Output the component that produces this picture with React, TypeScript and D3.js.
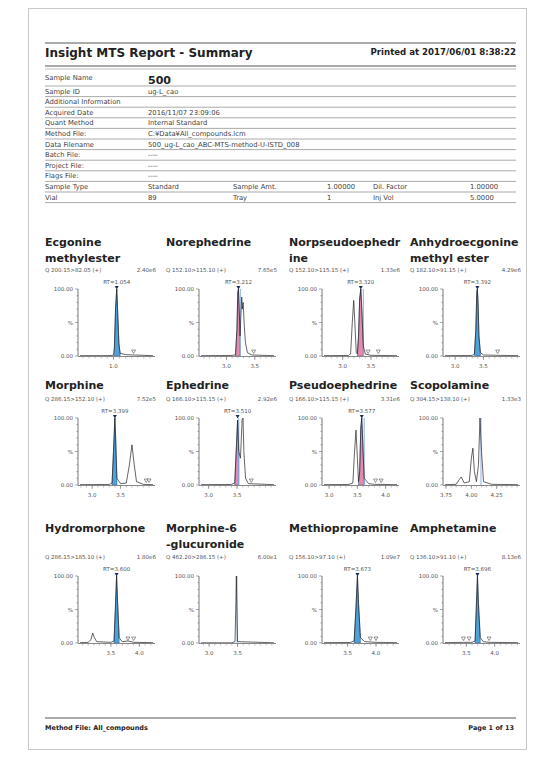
import React from "react"
import * as d3 from "d3"

type Pt = [number, number]

// ---- sample information table ----
const infoLabels = [
  "Sample Name",
  "Sample ID",
  "Additional Information",
  "Acquired Date",
  "Quant Method",
  "Method File:",
  "Data Filename",
  "Batch File:",
  "Project File:",
  "Flags File:",
]
const infoValues = [
  "500",
  "ug-L_cao",
  "",
  "2016/11/07 23:09:06",
  "Internal Standard",
  "C:\u00a5Data\u00a5All_compounds.lcm",
  "500_ug-L_cao_ABC-MTS-method-U-ISTD_008",
  "----",
  "----",
  "----",
]
const sampleTypeRow = ["Sample Type", "Standard", "Sample Amt.", "1.00000", "Dil. Factor", "1.00000"]
const vialRow = ["Vial", "89", "Tray", "1", "Inj Vol", "5.0000"]

// ---- compounds ----
const titleLines: string[][] = [
  ["Ecgonine", "methylester"],
  ["Norephedrine"],
  ["Norpseudoephedr", "ine"],
  ["Anhydroecgonine", "methyl ester"],
  ["Morphine"],
  ["Ephedrine"],
  ["Pseudoephedrine"],
  ["Scopolamine"],
  ["Hydromorphone"],
  ["Morphine-6", "-glucuronide"],
  ["Methiopropamine"],
  ["Amphetamine"],
]
const transitions = [
  "Q 200.15>82.05 (+)",
  "Q 152.10>115.10 (+)",
  "Q 152.10>115.15 (+)",
  "Q 182.10>91.15 (+)",
  "Q 286.15>152.10 (+)",
  "Q 166.10>115.15 (+)",
  "Q 166.10>115.15 (+)",
  "Q 304.15>138.10 (+)",
  "Q 286.15>185.10 (+)",
  "Q 462.20>286.15 (+)",
  "Q 156.10>97.10 (+)",
  "Q 136.10>91.10 (+)",
]
const maxIntensities = [
  "2.40e6", "7.65e5", "1.33e6", "4.29e6",
  "7.52e5", "2.92e6", "3.31e6", "1.33e3",
  "1.80e6", "6.00e1", "1.09e7", "8.13e6",
]
const rtValues: (number | null)[] = [
  1.054, 3.212, 3.32, 3.392,
  3.399, 3.51, 3.577, null,
  3.6, null, 3.673, 3.696,
]
const rtLabels = [
  "1.054", "3.212", "3.320", "3.392",
  "3.399", "3.510", "3.577", "",
  "3.600", "", "3.673", "3.696",
]
const xDomains: [number, number][] = [
  [0.45, 1.65], [2.55, 3.84], [2.67, 3.96], [2.82, 4.11],
  [2.786, 4.07], [2.866, 4.15], [2.91, 4.2], [3.74, 4.46],
  [2.957, 4.24], [2.857, 4.14], [3.084, 4.37], [3.125, 4.41],
]
const xTicks: number[][] = [
  [1.0], [3.0, 3.5], [3.0, 3.5], [3.0, 3.5],
  [3.0, 3.5], [3.0, 3.5], [3.0, 3.5, 4.0], [3.75, 4.0, 4.25],
  [3.5, 4.0], [3.0, 3.5], [3.5, 4.0], [3.5, 4.0],
]

// chromatogram traces [time(min), % of max]
const ecgonineTrace: Pt[] = [[0.45, 0.5], [0.9, 0.6], [1.0, 1], [1.015, 12], [1.035, 72], [1.054, 100], [1.07, 65], [1.09, 18], [1.11, 4], [1.2, 2], [1.33, 1.5], [1.65, 0.5]]
const norephedrineTrace: Pt[] = [[2.55, 0.5], [3.1, 0.8], [3.16, 2], [3.185, 40], [3.2, 95], [3.212, 100], [3.225, 70], [3.24, 30], [3.255, 60], [3.27, 88], [3.28, 70], [3.295, 80], [3.315, 45], [3.335, 20], [3.37, 5], [3.45, 1.5], [3.84, 0.5]]
const norpseudoTrace: Pt[] = [[2.67, 0.5], [3.1, 0.8], [3.14, 3], [3.17, 50], [3.195, 83], [3.215, 50], [3.24, 5], [3.26, 3], [3.28, 30], [3.3, 85], [3.32, 100], [3.338, 70], [3.365, 15], [3.4, 3], [3.5, 1], [3.96, 0.5]]
const anhydroTrace: Pt[] = [[2.82, 0.5], [3.3, 0.8], [3.34, 3], [3.365, 40], [3.382, 95], [3.392, 100], [3.404, 80], [3.42, 30], [3.445, 5], [3.5, 1.5], [3.75, 1], [4.11, 0.5]]
const morphineTrace: Pt[] = [[2.786, 0.5], [3.3, 0.8], [3.35, 3], [3.375, 50], [3.399, 100], [3.413, 70], [3.435, 10], [3.5, 2], [3.6, 3], [3.655, 30], [3.7, 60], [3.74, 30], [3.78, 5], [3.9, 1], [4.07, 0.5]]
const ephedrineTrace: Pt[] = [[2.866, 0.5], [3.4, 0.8], [3.46, 3], [3.49, 60], [3.51, 97], [3.53, 50], [3.56, 40], [3.59, 98], [3.605, 100], [3.62, 50], [3.65, 10], [3.7, 2], [4.15, 0.5]]
const pseudoephedrineTrace: Pt[] = [[2.91, 0.5], [3.35, 0.8], [3.42, 3], [3.45, 50], [3.475, 82], [3.5, 40], [3.52, 5], [3.54, 20], [3.56, 85], [3.577, 100], [3.592, 70], [3.62, 10], [3.7, 2], [3.8, 1], [4.2, 0.5]]
const scopolamineTrace: Pt[] = [[3.74, 0.5], [3.85, 1], [3.88, 8], [3.9, 12], [3.93, 3], [3.98, 5], [4.0, 40], [4.015, 55], [4.03, 20], [4.05, 5], [4.07, 30], [4.085, 100], [4.1, 50], [4.12, 5], [4.2, 1], [4.46, 0.5]]
const hydromorphoneTrace: Pt[] = [[2.957, 0.5], [3.1, 1], [3.15, 5], [3.18, 15], [3.21, 8], [3.25, 2], [3.5, 1], [3.555, 3], [3.578, 50], [3.6, 100], [3.618, 60], [3.645, 8], [3.7, 2], [3.8, 3], [3.9, 1], [4.24, 0.5]]
const m6gTrace: Pt[] = [[2.857, 0.3], [3.4, 0.3], [3.455, 2], [3.47, 60], [3.478, 100], [3.486, 60], [3.5, 2], [4.14, 0.3]]
const methiopropamineTrace: Pt[] = [[3.084, 0.5], [3.55, 0.8], [3.615, 3], [3.645, 50], [3.673, 100], [3.692, 60], [3.725, 8], [3.8, 2], [4.0, 1], [4.37, 0.5]]
const amphetamineTrace: Pt[] = [[3.125, 0.5], [3.45, 1], [3.6, 1], [3.655, 3], [3.675, 50], [3.696, 100], [3.713, 60], [3.745, 8], [3.8, 2], [3.9, 1], [4.41, 0.5]]

const traces: Pt[][] = [
  ecgonineTrace, norephedrineTrace, norpseudoTrace, anhydroTrace,
  morphineTrace, ephedrineTrace, pseudoephedrineTrace, scopolamineTrace,
  hydromorphoneTrace, m6gTrace, methiopropamineTrace, amphetamineTrace,
]
// integrated peak: [start, end] and colour kind
const fillRanges: ([number, number] | null)[] = [
  [1.015, 1.11], [3.16, 3.24], [3.26, 3.365], [3.34, 3.445],
  [3.35, 3.435], [3.46, 3.53], [3.52, 3.62], null,
  [3.555, 3.645], null, [3.615, 3.725], [3.655, 3.745],
]
const fillKinds = ["blue", "pink", "pink", "blue", "blue", "pink", "pink", "", "blue", "", "blue", "blue"]
const expectedLines: (number | null)[] = [null, 3.245, 3.365, null, null, 3.53, 3.62, 4.095, null, 3.49, null, null]
const baselineMarks: number[][] = [
  [1.33], [3.48], [3.45, 3.63], [3.75],
  [3.95, 4.0], [3.75], [3.82, 3.92], [],
  [3.8, 3.9], [], [3.9, 4.0], [3.45, 3.55, 3.9],
]

const colX = [45, 166, 289, 410]
const rowTitleY = [246, 389, 532]
const rowQY = [272, 401, 559]

const FONT = "DejaVu Sans, Verdana, sans-serif"
const fillColor: Record<string, string> = { blue: "#4da3d8", pink: "#e68bab" }

function Panel({ i }: { i: number }) {
  const px = colX[i % 4]
  const row = Math.floor(i / 4)
  const qy = rowQY[row]
  const top = qy + 17
  const bottom = qy + 84
  const x = d3.scaleLinear().domain(xDomains[i]).range([px + 35, px + 108])
  const y = d3.scaleLinear().domain([0, 100]).range([bottom, top])
  const line = d3.line<Pt>().x((d) => x(d[0])).y((d) => y(d[1]))
  const area = d3.area<Pt>().x((d) => x(d[0])).y0(bottom).y1((d) => y(d[1]))
  const fr = fillRanges[i]
  const fillPts = fr ? traces[i].filter((d) => d[0] >= fr[0] - 1e-9 && d[0] <= fr[1] + 1e-9) : []
  const rt = rtValues[i]
  const dec = i === 7 ? 2 : 1
  const minor = x.ticks(12)
  const clipId = `clip${i}`
  return (
    <g>
      {titleLines[i].map((t, k) => (
        <text key={k} x={px} y={rowTitleY[row] + k * 16} fontFamily={FONT} fontWeight="bold" fontSize={11} fill="#222">
          {t}
        </text>
      ))}
      <text x={px} y={qy} fontFamily={FONT} fontSize={5.5} fill="#555">{transitions[i]}</text>
      <text x={px + 111} y={qy} fontFamily={FONT} fontSize={5.5} fill="#555" textAnchor="end">{maxIntensities[i]}</text>
      <defs>
        <clipPath id={clipId}>
          <rect x={px + 34} y={top - 2} width={76} height={bottom - top + 2} />
        </clipPath>
      </defs>
      {/* y axis */}
      <line x1={px + 33} x2={px + 33} y1={top} y2={bottom} stroke="#555" strokeWidth={0.8} />
      {d3.range(0, 101, 10).map((v) => (
        <line key={v} x1={px + (v % 50 === 0 ? 30 : 31.5)} x2={px + 33} y1={y(v)} y2={y(v)} stroke="#555" strokeWidth={0.5} />
      ))}
      <text x={px + 28} y={top + 2} fontFamily={FONT} fontSize={5.5} fill="#555" textAnchor="end">100.00</text>
      <text x={px + 28} y={(top + bottom) / 2 + 2} fontFamily={FONT} fontSize={5.5} fill="#555" textAnchor="end">%</text>
      <text x={px + 28} y={bottom + 2} fontFamily={FONT} fontSize={5.5} fill="#555" textAnchor="end">0.00</text>
      {/* trace */}
      <g clipPath={`url(#${clipId})`}>
        {fr && (
          <path d={area(fillPts) || ""} fill={fillColor[fillKinds[i]]} stroke="#2b4f8c" strokeWidth={0.5} />
        )}
        {expectedLines[i] !== null && (
          <line x1={x(expectedLines[i] as number)} x2={x(expectedLines[i] as number)} y1={bottom} y2={top} stroke="#7fa9e0" strokeWidth={0.9} />
        )}
        <path d={line(traces[i]) || ""} fill="none" stroke="#222" strokeWidth={0.7} />
      </g>
      {/* x axis */}
      <line x1={px + 33} x2={px + 110} y1={bottom + 0.5} y2={bottom + 0.5} stroke="#888" strokeWidth={1.2} />
      {minor.map((t) => (
        <line key={t} x1={x(t)} x2={x(t)} y1={bottom + 1} y2={bottom + 2.5} stroke="#666" strokeWidth={0.4} />
      ))}
      {xTicks[i].map((t) => (
        <g key={t}>
          <line x1={x(t)} x2={x(t)} y1={bottom + 1} y2={bottom + 4} stroke="#555" strokeWidth={0.5} />
          <text x={x(t)} y={bottom + 12} fontFamily={FONT} fontSize={5.5} fill="#555" textAnchor="middle">
            {t.toFixed(dec)}
          </text>
        </g>
      ))}
      {baselineMarks[i].map((t) => (
        <path key={t} d={`M${x(t) - 2},${bottom - 6}L${x(t) + 2},${bottom - 6}L${x(t)},${bottom - 2.5}Z`} fill="white" stroke="#333" strokeWidth={0.5} />
      ))}
      {rt !== null && (
        <g>
          <path d={`M${x(rt) - 2},${y(100) - 3}L${x(rt) + 2},${y(100) - 3}L${x(rt)},${y(100) + 0.5}Z`} fill="#1d2d5a" />
          <text x={x(rt)} y={top - 5} fontFamily={FONT} fontSize={5.5} fill="#555" textAnchor="middle">
            RT={rtLabels[i]}
          </text>
        </g>
      )}
    </g>
  )
}

export default function App() {
  const W = 533
  const H = 759
  const left = 45
  const right = 516
  const rowH = 10.6
  const firstRowTop = 86
  const cols = [left, 148, 233, 327, 373, 470]
  const lower = [sampleTypeRow, vialRow]
  return (
    <svg width={W} height={H} style={{ position: "absolute", left: 0, top: 0, background: "#fff" }}>
      <rect x={0} y={0} width={W} height={H} fill="#fff" />
      <rect x={28.5} y={8.5} width={498} height={741} fill="none" stroke="#c8c8c8" strokeWidth={1} />
      {/* header */}
      <line x1={left} x2={right} y1={43} y2={43} stroke="#aaa" strokeWidth={2} />
      <text x={left} y={57} fontFamily={FONT} fontWeight="bold" fontSize={12} fill="#222">
        Insight MTS Report - Summary
      </text>
      <text x={right} y={55} fontFamily={FONT} fontWeight="bold" fontSize={8.6} fill="#222" textAnchor="end">
        Printed at 2017/06/01 8:38:22
      </text>
      <line x1={left} x2={right} y1={66} y2={66} stroke="#aaa" strokeWidth={2} />
      <line x1={left} x2={right} y1={69} y2={69} stroke="#bbb" strokeWidth={1} />
      {/* info table */}
      <text x={left} y={80} fontFamily={FONT} fontSize={6.8} fill="#444">{infoLabels[0]}</text>
      <text x={148} y={84} fontFamily={FONT} fontWeight="bold" fontSize={11} fill="#222">{infoValues[0]}</text>
      <line x1={left} x2={right} y1={firstRowTop} y2={firstRowTop} stroke="#aaa" strokeWidth={1} />
      {infoLabels.slice(1).map((lab, k) => {
        const t = firstRowTop + k * rowH
        return (
          <g key={lab}>
            <text x={left} y={t + 7.5} fontFamily={FONT} fontSize={6.8} fill="#444">{lab}</text>
            <text x={148} y={t + 7.5} fontFamily={FONT} fontSize={6.8} fill="#444">{infoValues[k + 1]}</text>
            <line x1={left} x2={right} y1={t + rowH} y2={t + rowH} stroke="#aaa" strokeWidth={1} />
          </g>
        )
      })}
      {lower.map((r, k) => {
        const t = firstRowTop + (infoLabels.length - 1 + k) * rowH
        return (
          <g key={k}>
            {r.map((c, j) => (
              <text key={j} x={cols[j]} y={t + 7.5} fontFamily={FONT} fontSize={6.8} fill="#444">{c}</text>
            ))}
            <line x1={left} x2={right} y1={t + rowH} y2={t + rowH} stroke="#aaa" strokeWidth={1} />
          </g>
        )
      })}
      {/* chromatograms */}
      {titleLines.map((_, i) => (
        <Panel key={i} i={i} />
      ))}
      {/* footer */}
      <line x1={left} x2={right} y1={718} y2={718} stroke="#aaa" strokeWidth={2} />
      <text x={left} y={730} fontFamily={FONT} fontWeight="bold" fontSize={6.5} fill="#222">Method File: All_compounds</text>
      <text x={right - 2} y={730} fontFamily={FONT} fontWeight="bold" fontSize={6.5} fill="#222" textAnchor="end">Page 1 of 13</text>
    </svg>
  )
}
